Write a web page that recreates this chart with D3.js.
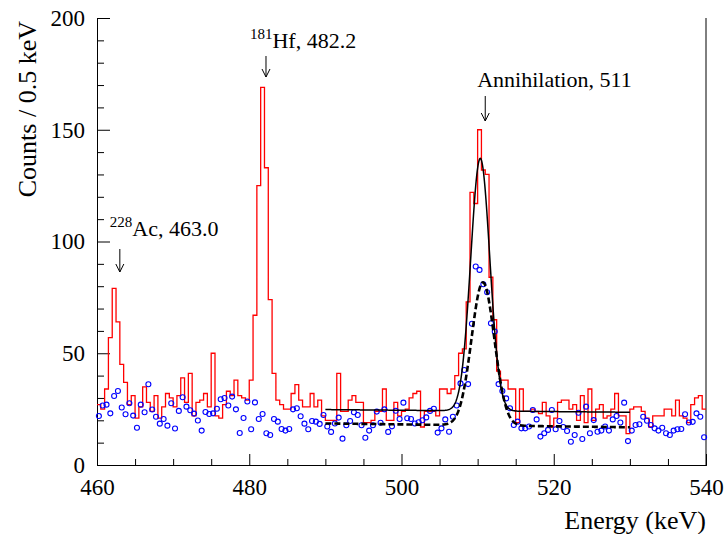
<!DOCTYPE html>
<html>
<head>
<meta charset="utf-8">
<script src="https://cdn.jsdelivr.net/npm/d3@7"></script>
<style>
  body { margin: 0; background: #fff; }
  svg { display: block; font-family: "Liberation Serif", "Times New Roman", serif; }
</style>
</head>
<body>
<div class="viz"></div>
<script>
// histogram: 0.5 keV bins starting at 460 keV
var binStart = 460, binWidth = 0.5;

var redCounts = [
  27, 25, 34, 57, 79, 64, 45, 37, 27, 31,
  21, 26, 35, 28, 24, 31, 21, 26, 32, 30,
  26, 31, 39, 28, 41, 22, 28, 29, 32, 26,
  50, 22, 21, 27, 33, 31, 38, 31, 30, 29,
  38, 67, 125, 169, 133, 74, 41, 29, 27, 25,
  25, 32, 36, 29, 26, 26, 32, 26, 29, 22,
  20, 20, 20, 41, 24, 24, 29, 31, 28, 28,
  19, 19, 20, 24, 24, 34, 20, 20, 28, 22,
  24, 25, 30, 32, 33, 17, 24, 24, 24, 22,
  34, 34, 32, 34, 40, 50, 52, 73, 122, 117,
  150, 132, 130, 84, 65, 42, 38, 38, 34, 34,
  19, 34, 24, 24, 25, 24, 23, 28, 22, 17,
  21, 28, 29, 29, 25, 27, 20, 31, 19, 34,
  20, 25, 27, 21, 22, 25, 32, 22, 22, 14,
  25, 26, 26, 24, 21, 17, 22, 22, 22, 25,
  25, 22, 29, 22, 21, 19, 27, 30, 31, 25
];

var blueCounts = [
  21.9, 26.6, 27.0, 23.1, 30.9, 33.1, 25.7, 22.7, 27.6, 22.1,
  16.7, 27.0, 23.6, 36.1, 24.8, 21.6, 18.5, 20.6, 17.6, 27.6,
  16.3, 24.2, 30.3, 26.1, 24.5, 23.0, 19.9, 15.4, 23.7, 22.8,
  23.1, 25.2, 29.4, 30.0, 26.6, 30.6, 24.9, 14.3, 21.0, 28.4,
  16.0, 28.0, 20.6, 22.8, 14.2, 13.4, 20.6, 19.4, 16.1, 15.4,
  16.1, 24.9, 25.4, 21.8, 18.5, 16.0, 19.7, 19.4, 18.4, 22.4,
  17.2, 14.8, 18.6, 21.2, 11.8, 17.8, 19.7, 23.6, 22.4, 17.8,
  12.2, 15.4, 17.8, 23.9, 18.9, 24.9, 14.8, 17.3, 24.3, 20.6,
  27.9, 20.9, 20.6, 18.6, 19.1, 20.0, 21.3, 24.2, 25.2, 14.5,
  16.4, 20.4, 14.9, 21.6, 26.6, 36.5, 42.5, 36.2, 63.2, 88.8,
  87.3, 80.9, 77.3, 63.4, 59.7, 36.2, 33.1, 29.8, 25.4, 17.9,
  19.4, 16.4, 16.4, 17.2, 24.6, 20.4, 12.7, 14.2, 15.7, 24.6,
  16.0, 19.7, 17.0, 15.2, 10.4, 13.4, 23.4, 11.6, 26.1, 14.2,
  20.1, 14.9, 15.4, 17.2, 15.4, 20.4, 21.9, 19.0, 27.9, 10.7,
  15.4, 17.9, 18.2, 21.6, 19.8, 17.9, 16.4, 15.4, 16.7, 14.2,
  13.4, 15.4, 16.0, 16.1, 22.7, 19.0, 19.3, 23.1, 21.6, 12.4
];

// fit curves: [mean, sigma, amplitude, background at 490, background slope]
var fitRange = [490, 530];
var fitSolid = [510.35, 1.25, 113, 24.8, -0.03];
var fitDashed = [510.7, 1.5, 64, 18.6, -0.043];

var xTicks = [460, 480, 500, 520, 540];
var yTicks = [0, 50, 100, 150, 200];

var peakLabels = [
  { iso: "228", text: "Ac, 463.0", energy: 463.0 },
  { iso: "181", text: "Hf, 482.2", energy: 482.2 },
  { iso: "", text: "Annihilation, 511", energy: 511 }
];

var W = 725, H = 534;
var margin = { top: 18, right: 19, bottom: 69, left: 97 };
var width = W - margin.left - margin.right,
    height = H - margin.top - margin.bottom;

var svg = d3.select('.viz').append('svg')
    .attr('width', W)
    .attr('height', H);

var g = svg.append('g')
    .attr('transform', 'translate(' + margin.left + ',' + margin.top + ')');

var x = d3.scaleLinear().domain([460, 540]).range([0, width]);
var y = d3.scaleLinear().domain([0, 200]).range([height, 0]);

// axes, ticks pointing inwards
var xMinor = d3.range(460, 540.1, 5).filter(function (v) { return v % 20 !== 0; });
var yMinor = d3.range(0, 200.1, 10).filter(function (v) { return v % 50 !== 0; });

g.append('g')
    .attr('transform', 'translate(0,' + height + ')')
    .call(d3.axisBottom(x).tickValues(xMinor).tickSize(-6).tickFormat(''));
g.append('g')
    .attr('class', 'xaxis')
    .attr('transform', 'translate(0,' + height + ')')
    .call(d3.axisBottom(x).tickValues(xTicks).tickSize(-11).tickPadding(14).tickFormat(d3.format('d')));

g.append('g')
    .call(d3.axisLeft(y).tickValues(yMinor).tickSize(-7).tickFormat(''));
g.append('g')
    .attr('class', 'yaxis')
    .call(d3.axisLeft(y).tickValues(yTicks).tickSize(-13).tickPadding(12).tickFormat(d3.format('d')));

g.selectAll('.domain').attr('stroke', '#000').attr('stroke-width', 1);
g.selectAll('.tick line').attr('stroke', '#000');
g.selectAll('.tick text').attr('fill', '#000').style('font-size', '23px')
    .style('font-family', '"Liberation Serif", serif');

// right frame line
g.append('line')
    .attr('x1', width).attr('x2', width)
    .attr('y1', 0).attr('y2', height)
    .attr('stroke', '#000');

// axis titles
svg.append('text')
    .attr('x', margin.left + width)
    .attr('y', H - 5)
    .attr('text-anchor', 'end')
    .style('font-size', '26px')
    .text('Energy (keV)');

svg.append('text')
    .attr('transform', 'translate(36,' + (margin.top + 3) + ') rotate(-90)')
    .attr('text-anchor', 'end')
    .style('font-size', '26px')
    .text('Counts / 0.5 keV');

// red histogram
var edges = redCounts.map(function (c, i) { return [binStart + i * binWidth, c]; });
edges.push([binStart + redCounts.length * binWidth, redCounts[redCounts.length - 1]]);

var stepLine = d3.line()
    .x(function (d) { return x(d[0]); })
    .y(function (d) { return y(d[1]); })
    .curve(d3.curveStepAfter);

g.append('path')
    .datum(edges)
    .attr('d', stepLine)
    .attr('fill', 'none')
    .attr('stroke', '#ff0000')
    .attr('stroke-width', 1.3);

// blue open circles
g.selectAll('.pt')
    .data(blueCounts)
    .enter().append('circle')
    .attr('class', 'pt')
    .attr('cx', function (d, i) { return x(binStart + (i + 0.5) * binWidth); })
    .attr('cy', function (d) { return y(d); })
    .attr('r', 2.5)
    .attr('fill', 'none')
    .attr('stroke', '#0000ff')
    .attr('stroke-width', 1.1);

// fit curves
function fitValue(p, e) {
    var z = (e - p[0]) / p[1];
    return p[3] + p[4] * (e - fitRange[0]) + p[2] * Math.exp(-0.5 * z * z);
}
var fitX = d3.range(fitRange[0], fitRange[1] + 0.001, 0.05);
var curve = d3.line()
    .x(function (d) { return x(d[0]); })
    .y(function (d) { return y(d[1]); });

g.append('path')
    .datum(fitX.map(function (e) { return [e, fitValue(fitSolid, e)]; }))
    .attr('d', curve)
    .attr('fill', 'none')
    .attr('stroke', '#000')
    .attr('stroke-width', 1.5);

g.append('path')
    .datum(fitX.map(function (e) { return [e, fitValue(fitDashed, e)]; }))
    .attr('d', curve)
    .attr('fill', 'none')
    .attr('stroke', '#000')
    .attr('stroke-width', 2.6)
    .attr('stroke-dasharray', '6,3');

// peak annotations with arrows
var labelPos = [
  { ty: 236, ay1: 249, ay2: 272, dx: -10 },
  { ty: 48, ay1: 56, ay2: 77, dx: -16 },
  { ty: 87, ay1: 96, ay2: 121, dx: -8 }
];

peakLabels.forEach(function (p, i) {
    var px = x(p.energy), lp = labelPos[i];
    var t = g.append('text')
        .attr('x', px + lp.dx)
        .attr('y', lp.ty - margin.top)
        .style('font-size', '22px');
    if (p.iso) {
        t.append('tspan').attr('dy', -9).style('font-size', '15px').text(p.iso);
        t.append('tspan').attr('dy', 9).text(p.text);
    } else {
        t.text(p.text);
    }
    var y1 = lp.ay1 - margin.top, y2 = lp.ay2 - margin.top;
    g.append('line')
        .attr('x1', px).attr('x2', px).attr('y1', y1).attr('y2', y2)
        .attr('stroke', '#000').attr('stroke-width', 1);
    g.append('path')
        .attr('d', 'M' + (px - 4) + ',' + (y2 - 8) + 'L' + px + ',' + y2 + 'L' + (px + 4) + ',' + (y2 - 8))
        .attr('fill', 'none').attr('stroke', '#000').attr('stroke-width', 1);
});
</script>
</body>
</html>
